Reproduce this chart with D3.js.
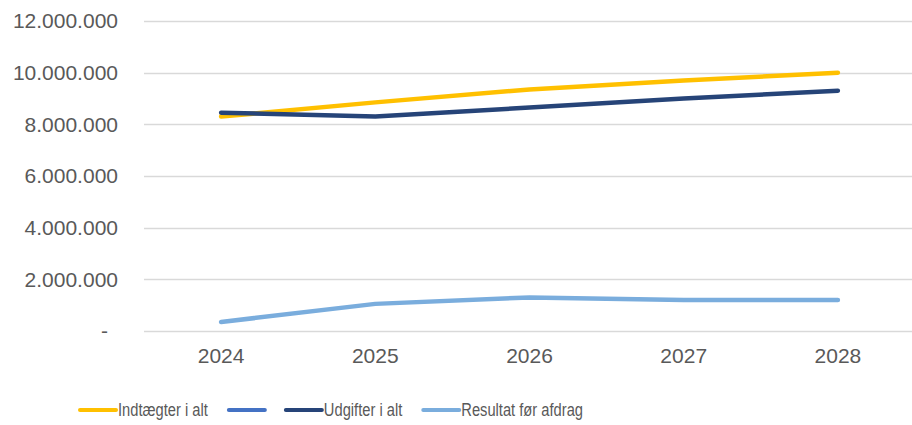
<!DOCTYPE html>
<html>
<head>
<meta charset="utf-8">
<style>
body { margin: 0; background: #fff; }
.axis text { fill: #595959; font-family: "Liberation Sans", Arial, sans-serif; font-size: 21px; }
.grid line { stroke: #d9d9d9; stroke-width: 1.3; }
.legend text { fill: #595959; font-family: "Liberation Sans", Arial, sans-serif; font-size: 17.5px; }
</style>
<title>Budget</title>
</head>
<body>
<svg width="912" height="425"></svg>
<script src="https://d3js.org/d3.v7.min.js"></script>
<script>
// data
var years = ["2024", "2025", "2026", "2027", "2028"];
var indtaegter = [8300000, 8850000, 9350000, 9700000, 10000000];
var blank = [null, null, null, null, null];
var udgifter = [8450000, 8300000, 8650000, 9000000, 9300000];
var resultat = [350000, 1050000, 1300000, 1200000, 1200000];
var yTicks = [0, 2000000, 4000000, 6000000, 8000000, 10000000, 12000000];

var series = [
  {name: "Indtægter i alt", values: indtaegter, color: "#ffc000"},
  {name: "", values: blank, color: "#4472c4"},
  {name: "Udgifter i alt", values: udgifter, color: "#264478"},
  {name: "Resultat før afdrag", values: resultat, color: "#7aaddd"}
];

var svg = d3.select("svg");

var x = d3.scaleBand()
    .domain(years)
    .range([144, 915]);

var y = d3.scaleLinear()
    .domain([0, 12000000])
    .range([331, 21]);

var fmt = function(v) {
  if (v === 0) return "-";
  return d3.format(",")(v).replace(/,/g, ".");
};

// gridlines
svg.append("g")
    .attr("class", "grid")
  .selectAll("line")
    .data(yTicks)
  .enter().append("line")
    .attr("x1", x.range()[0])
    .attr("x2", x.range()[1])
    .attr("y1", function(d) { return Math.round(y(d)) + 0.5; })
    .attr("y2", function(d) { return Math.round(y(d)) + 0.5; });

// y axis labels
var yAxis = svg.append("g")
    .attr("class", "axis")
    .attr("transform", "translate(118,0)")
    .call(d3.axisLeft(y).tickValues(yTicks).tickFormat(fmt).tickSize(0).tickPadding(0));
yAxis.select(".domain").remove();
yAxis.selectAll("text")
    .attr("x", function(d) { return d === 0 ? -10 : 0; });

// x axis labels
var xAxis = svg.append("g")
    .attr("class", "axis")
    .attr("transform", "translate(0,345)")
    .call(d3.axisBottom(x).tickSize(0).tickPadding(0));
xAxis.select(".domain").remove();
xAxis.selectAll("text").attr("dy", "0.85em");

// lines
var line = d3.line()
    .defined(function(d) { return d != null; })
    .x(function(d, i) { return x(years[i]) + x.bandwidth() / 2; })
    .y(function(d) { return y(d); });

svg.append("g")
  .selectAll("path")
    .data(series)
  .enter().append("path")
    .attr("d", function(s) { return line(s.values); })
    .attr("fill", "none")
    .attr("stroke", function(s) { return s.color; })
    .attr("stroke-width", 4.5)
    .attr("stroke-linecap", "round")
    .attr("stroke-linejoin", "round");

// legend (text squeezed a bit, the original font is condensed)
var squeeze = 0.84;
var legend = svg.append("g").attr("class", "legend");
var lx = 80, ly = 410;
series.forEach(function(s) {
  legend.append("line")
      .attr("x1", lx).attr("x2", lx + 36)
      .attr("y1", ly).attr("y2", ly)
      .attr("stroke", s.color)
      .attr("stroke-width", 4)
      .attr("stroke-linecap", "round");
  lx += 36;
  if (s.name) {
    var t = legend.append("g")
        .attr("transform", "translate(" + (lx + 2) + "," + ly + ") scale(" + squeeze + ",1)")
      .append("text")
        .attr("dy", "0.35em")
        .text(s.name);
    lx += 2 + t.node().getComputedTextLength() * squeeze;
  }
  lx += 21;
});
</script>
</body>
</html>
